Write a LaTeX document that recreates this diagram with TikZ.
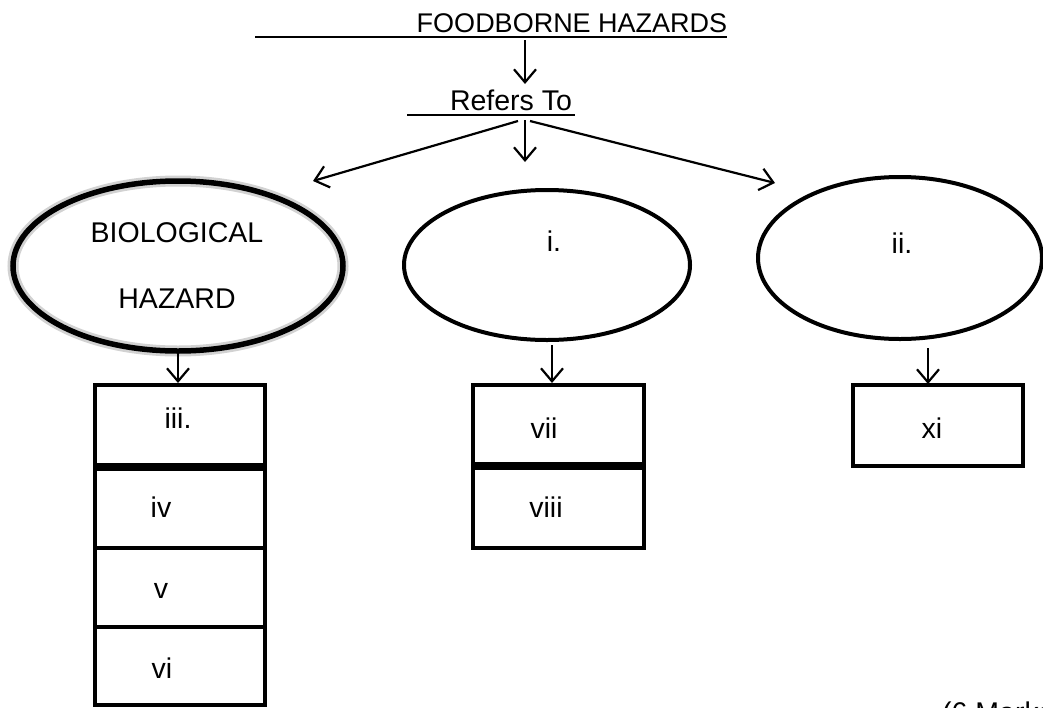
\documentclass[tikz,border=0pt]{standalone}
\usepackage{fontspec}
\setmainfont{Liberation Sans}
\usetikzlibrary{shapes.geometric,arrows.meta}
\begin{document}
\begin{tikzpicture}[x=1pt,y=-1pt,
  txt/.style={font=\fontsize{28.5}{32}\selectfont, inner sep=0, anchor=base},
  arr/.style={line width=2.2pt, -{Straight Barb[length=13pt,width=22pt,line width=2.2pt]}},
  oval/.style={ellipse, draw, line width=4pt, inner sep=0},
  cell/.style={rectangle, draw, line width=4.5pt, inner sep=0, outer sep=0},
  divider/.style={line width=7.5pt}]
\useasboundingbox (0,0) rectangle (1043,707);
\clip (0,0) rectangle (1043,707);
\fill[white] (0,0) rectangle (1043,707);

% title
\node[txt, font=\fontsize{27}{30}\selectfont] (title) at (572,32) {FOODBORNE HAZARDS};
\coordinate (tl) at (255,37);
\coordinate (tr) at (727,37);
\draw[line width=2.2pt] (tl) -- (tr);

% refers to
\node[txt] (refers) at (511,110) {Refers To};
\coordinate (rl) at (407,115);
\coordinate (rr) at (575,115);
\draw[line width=2.2pt] (rl) -- (rr);

\coordinate (a1s) at (525,40);
\coordinate (a1e) at (525,84);
\draw[arr] (a1s) -- (a1e);

% ellipses
\node[oval, line width=11pt, draw=gray!35, minimum width=330pt, minimum height=170pt] (bioh) at (178,266) {};
\node[oval, line width=5.5pt, minimum width=330pt, minimum height=170pt] (bio) at (178,266) {};
\node[oval, minimum width=286pt, minimum height=150pt] (ei) at (547,265) {};
\node[oval, minimum width=284pt, minimum height=162pt] (eii) at (900,258) {};

\node[txt] (biot1) at (177,242) {BIOLOGICAL};
\node[txt] (biot2) at (177,308) {HAZARD};
\node[txt] (eit) at (554,251) {i.};
\node[txt] (eiit) at (902,253) {ii.};

% arrows from refers
\coordinate (bl) at (518,121);
\coordinate (bm) at (525,120);
\coordinate (br) at (530,121);
\coordinate (el) at (313,181);
\coordinate (em) at (525,162);
\coordinate (er) at (775,183);
\draw[arr] (bl) -- (el);
\draw[arr] (bm) -- (em);
\draw[arr] (br) -- (er);

% arrows to boxes
\coordinate (b1s) at (178,354);
\coordinate (b1e) at (178,383);
\coordinate (b2s) at (552,345);
\coordinate (b2e) at (552,383);
\coordinate (b3s) at (928,348);
\coordinate (b3e) at (928,384);
\draw[arr] (b1s) -- (b1e);
\draw[arr] (b2s) -- (b2e);
\draw[arr] (b3s) -- (b3e);

% biological column
\node[cell, minimum width=170pt, minimum height=82pt] (c3) at (180,426) {};
\node[cell, minimum width=170pt, minimum height=81pt] (c4) at (180,507.5) {};
\node[cell, minimum width=170pt, minimum height=79pt] (c5) at (180,587.5) {};
\node[cell, minimum width=170pt, minimum height=78pt] (c6) at (180,666) {};
\draw[divider] (c3.south west) -- (c3.south east);
\node[txt] (t3) at (178,428) {iii.};
\node[txt] (t4) at (161,517) {iv};
\node[txt] (t5) at (161,598) {v};
\node[txt] (t6) at (162,678) {vi};

% i column
\node[cell, minimum width=171pt, minimum height=81pt] (c7) at (558.5,425.5) {};
\node[cell, minimum width=171pt, minimum height=82pt] (c8) at (558.5,507) {};
\draw[divider] (c7.south west) -- (c7.south east);
\node[txt] (t7) at (544,438) {vii};
\node[txt] (t8) at (546,517) {viii};

% ii column
\node[cell, minimum width=170pt, minimum height=81pt] (c11) at (938,425.5) {};
\node[txt] (t11) at (932,438) {xi};

% marks
\node[txt, anchor=base west] (marks) at (942,722) {(6 Marks)};
\end{tikzpicture}
\end{document}
